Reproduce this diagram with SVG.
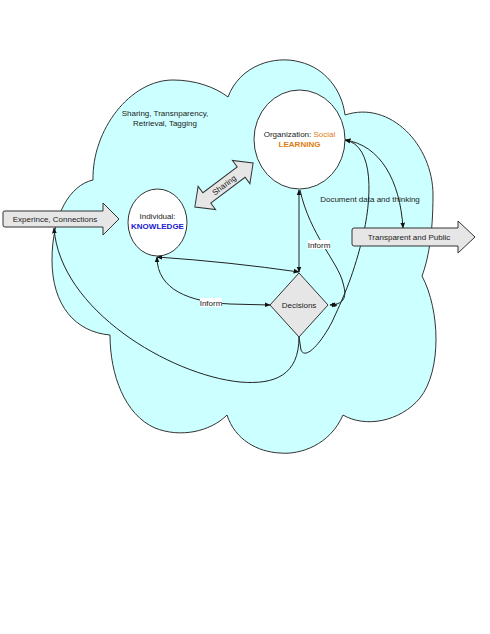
<svg xmlns="http://www.w3.org/2000/svg" width="490" height="634" viewBox="0 0 490 634">
<style>
text{font-family:"Liberation Sans",Arial,sans-serif;font-size:8px;fill:#222;text-anchor:middle}
.shape{stroke:#333;stroke-width:1}
.gray{fill:#e6e6e6}
.conn{fill:none;stroke:#222;stroke-width:1}
.lbl{fill:#fff}
</style>
<defs>
<marker id="ah" viewBox="0 0 10 10" refX="9" refY="5" markerWidth="6" markerHeight="6" orient="auto-start-reverse" markerUnits="userSpaceOnUse">
<path d="M0,1 L10,5 L0,9 Z" fill="#111"/>
</marker>
</defs>
<rect width="490" height="634" fill="#fff"/>
<g id="cloud">
<path class="shape" fill="#ccffff" d="M93,180 C92,130 130,80 173,80 C195,80 215,87 228,97 C240,65 275,55 300,62 C325,68 342,90 345,115 C390,100 433,145 433,195 C433,235 428,260 422,276 C440,310 442,370 420,398 C400,422 365,428 343,415 C330,445 300,455 280,453 C258,452 235,440 227,415 C210,432 180,438 155,428 C125,415 110,375 110,335 C75,332 52,305 52,260 C52,215 70,185 93,180 Z"/>
<text x="165" y="116">Sharing, Transnparency,</text>
<text x="165" y="126">Retrieval, Tagging</text>
</g>
<g id="connectors">
<path class="conn" d="M299,190 L299,272" marker-start="url(#ah)" marker-end="url(#ah)"/>
<path class="conn" d="M157,257 Q230,262 299,272" marker-start="url(#ah)" marker-end="url(#ah)"/>
<path class="conn" d="M157,257 C157,290 190,302 230,304 L270,305" marker-start="url(#ah)" marker-end="url(#ah)"/>
<path class="conn" d="M300,190 C310,235 338,262 343,283 C348,300 342,304 330,305" marker-end="url(#ah)"/>
<path class="conn" d="M345,140 C375,145 372,200 362,240 C352,280 342,300 332,322 C320,345 305,360 301,350 L299,337" marker-start="url(#ah)"/>
<path class="conn" d="M334,305 L337,305" marker-end="url(#ah)"/>
<path class="conn" d="M345,140 C380,145 400,180 403,228" marker-start="url(#ah)" marker-end="url(#ah)"/>
<path class="conn" d="M299,337 C299,375 275,385 240,382 C170,375 60,310 54,228" marker-end="url(#ah)"/>
<rect class="lbl" x="200" y="298" width="22" height="9"/>
<text x="211" y="306">Inform</text>
<rect class="lbl" x="308" y="240" width="22" height="9"/>
<text x="319" y="248">Inform</text>
<text x="370" y="202">Document data and thinking</text>
</g>
<g id="experience">
<path class="shape gray" d="M3,212 Q3,211 5,211 L103,211 L103,203 L119,219 L103,235 L103,227 L5,227 Q3,227 3,225 Z"/>
<text x="55" y="222">Experince, Connections</text>
</g>
<g id="transparent">
<path class="shape gray" d="M352,230 Q352,228 354,228 L458,228 L458,221 L475,237 L458,253 L458,246 L354,246 Q352,246 352,244 Z"/>
<text x="409" y="240">Transparent and Public</text>
</g>
<g id="sharing" transform="translate(224,185) rotate(-37)">
<path class="shape gray" d="M-36.5,0 L-21.5,-14.5 L-21.5,-6.5 L21.5,-6.5 L21.5,-14.5 L36.5,0 L21.5,14.5 L21.5,6.5 L-21.5,6.5 L-21.5,14.5 Z"/>
<text x="0" y="3">Sharing</text>
</g>
<g id="individual">
<ellipse class="shape" fill="#fff" cx="157.5" cy="222.5" rx="29.5" ry="33.5"/>
<text x="157.5" y="219">Individual:</text>
<text x="157.5" y="229" style="fill:#2020d0;font-weight:bold">KNOWLEDGE</text>
</g>
<g id="organization">
<ellipse class="shape" fill="#fff" cx="299.5" cy="139.5" rx="45.5" ry="49.5"/>
<text x="299.5" y="137">Organization: <tspan style="fill:#e07b10">Social</tspan></text>
<text x="299.5" y="147" style="fill:#e07b10;font-weight:bold">LEARNING</text>
</g>
<g id="decisions">
<path class="shape gray" d="M299,273 L328,305 L299,337 L270,305 Z"/>
<text x="299" y="308">Decisions</text>
</g>
</svg>
